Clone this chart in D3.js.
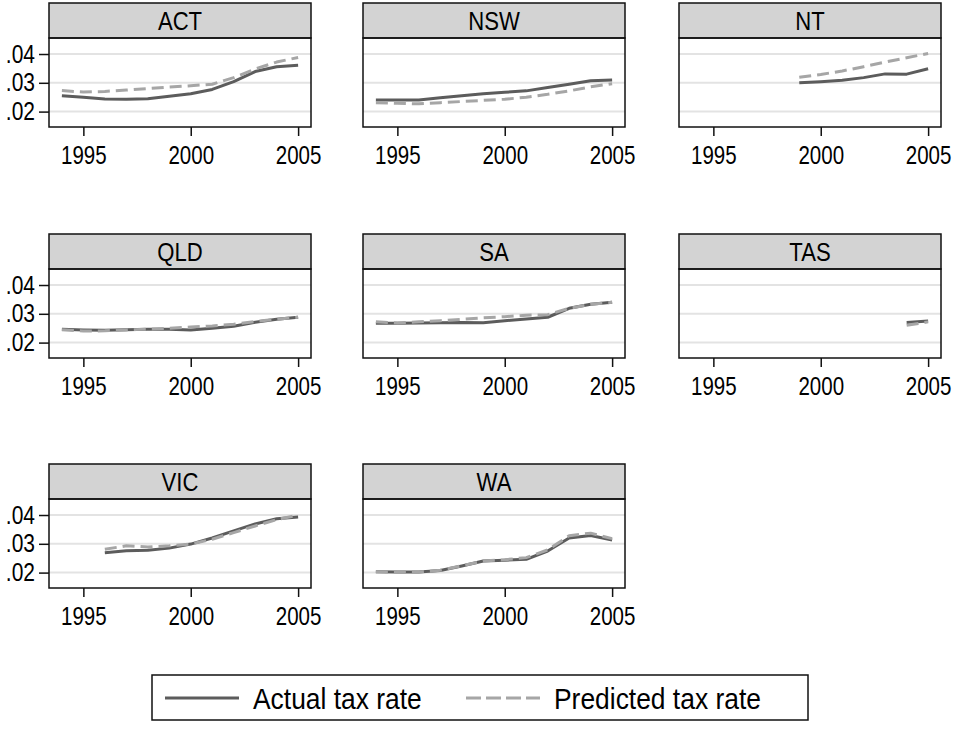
<!DOCTYPE html>
<html>
<head>
<meta charset="utf-8">
<script src="https://cdn.jsdelivr.net/npm/d3@7"></script>
<style>
  body { margin: 0; background: #fff; }
  text { font-family: "Liberation Sans Narrow", "Arial Narrow", "Liberation Sans", Arial, sans-serif; fill: #000; }
</style>
</head>
<body>
<div id="chart"></div>
<script>
// data
var years = [1994, 1995, 1996, 1997, 1998, 1999, 2000, 2001, 2002, 2003, 2004, 2005];
var states = ["ACT", "NSW", "NT", "QLD", "SA", "TAS", "VIC", "WA"];
var xTicks = [1995, 2000, 2005];
var yTicks = [0.02, 0.03, 0.04];

var actualACT = [.0255, .0250, .0244, .0243, .0245, .0253, .0262, .0277, .0304, .0339, .0356, .0361];
var predictedACT = [.0273, .0268, .0270, .0275, .0280, .0285, .0290, .0295, .0318, .0348, .0372, .0388];
var actualNSW = [.0240, .0240, .0240, .0248, .0255, .0262, .0267, .0272, .0284, .0295, .0307, .0310];
var predictedNSW = [.0231, .0229, .0227, .0231, .0235, .0239, .0243, .0250, .0260, .0272, .0286, .0297];
var actualNT = [null, null, null, null, null, .0300, .0304, .0309, .0318, .0331, .0330, .0349];
var predictedNT = [null, null, null, null, null, .0319, .0329, .0341, .0356, .0372, .0387, .0402];
var actualQLD = [.0246, .0244, .0243, .0245, .0246, .0246, .0244, .0250, .0257, .0271, .0281, .0288];
var predictedQLD = [.0245, .0240, .0241, .0244, .0247, .0250, .0254, .0258, .0264, .0273, .0281, .0288];
var actualSA = [.0267, .0267, .0268, .0269, .0270, .0269, .0276, .0282, .0288, .0319, .0333, .0340];
var predictedSA = [.0272, .0268, .0272, .0276, .0281, .0286, .0290, .0295, .0297, .0319, .0333, .0340];
var actualTAS = [null, null, null, null, null, null, null, null, null, null, .0270, .0275];
var predictedTAS = [null, null, null, null, null, null, null, null, null, null, .0260, .0272];
var actualVIC = [null, null, .0269, .0276, .0278, .0285, .0299, .0320, .0345, .0369, .0387, .0393];
var predictedVIC = [null, null, .0281, .0293, .0289, .0293, .0299, .0316, .0339, .0362, .0384, .0400];
var actualWA = [.0203, .0202, .0202, .0207, .0223, .0240, .0243, .0246, .0275, .0320, .0329, .0313];
var predictedWA = [.0203, .0202, .0202, .0208, .0224, .0240, .0245, .0252, .0279, .0328, .0337, .0318];

var actual = { ACT: actualACT, NSW: actualNSW, NT: actualNT, QLD: actualQLD, SA: actualSA, TAS: actualTAS, VIC: actualVIC, WA: actualWA };
var predicted = { ACT: predictedACT, NSW: predictedNSW, NT: predictedNT, QLD: predictedQLD, SA: predictedSA, TAS: predictedTAS, VIC: predictedVIC, WA: predictedWA };

var W = 957, H = 734;
var colLeft = [49, 363, 679], rowTop = [3, 234, 464];
var pw = 262, headH = 35, ph = 89;
var actualColor = "#5c5c5c", predColor = "#a6a6a6";

// no narrow font installed, so squeeze the regular one
var condense = function(sel, k) {
  sel.each(function() {
    var w = this.getComputedTextLength();
    d3.select(this).attr("textLength", w * k).attr("lengthAdjust", "spacingAndGlyphs");
  });
};

var svg = d3.select("#chart").append("svg")
  .attr("width", W).attr("height", H);

var x = d3.scaleLinear().domain([1993.4, 2005.6]).range([0, pw]);
var y = d3.scaleLinear().domain([0.01465, 0.04556]).range([ph, 0]);

var line = d3.line()
  .defined(function(d) { return d[1] != null; })
  .x(function(d) { return x(d[0]); })
  .y(function(d) { return y(d[1]); });

states.forEach(function(s, i) {
  var col = i % 3, row = Math.floor(i / 3);
  var g = svg.append("g")
    .attr("transform", "translate(" + colLeft[col] + "," + (rowTop[row] + headH) + ")");

  // header strip
  g.append("rect")
    .attr("x", 0).attr("y", -headH).attr("width", pw).attr("height", headH)
    .attr("fill", "#d3d3d3").attr("stroke", "#111").attr("stroke-width", 1.5);
  g.append("text")
    .attr("x", pw / 2).attr("y", -headH / 2 + 9)
    .attr("text-anchor", "middle").style("font-size", "26px")
    .text(s)
    .call(condense, 0.85);

  // grid
  g.selectAll(".grid").data(yTicks).enter().append("line")
    .attr("x1", 0).attr("x2", pw)
    .attr("y1", function(d) { return y(d); }).attr("y2", function(d) { return y(d); })
    .attr("stroke", "#e3e3e3").attr("stroke-width", 2);

  // series
  var a = years.map(function(yr, k) { return [yr, actual[s][k]]; });
  var p = years.map(function(yr, k) { return [yr, predicted[s][k]]; });
  g.append("path").datum(a).attr("d", line)
    .attr("fill", "none").attr("stroke", actualColor).attr("stroke-width", 3)
    .attr("stroke-linejoin", "round");
  g.append("path").datum(p).attr("d", line)
    .attr("fill", "none").attr("stroke", predColor).attr("stroke-width", 3)
    .attr("stroke-dasharray", "12,6").attr("stroke-linejoin", "round");

  // box
  g.append("rect")
    .attr("x", 0).attr("y", 0).attr("width", pw).attr("height", ph)
    .attr("fill", "none").attr("stroke", "#111").attr("stroke-width", 1.5);

  // x axis
  var xa = g.append("g").attr("transform", "translate(0," + ph + ")")
    .call(d3.axisBottom(x).tickValues(xTicks).tickFormat(d3.format("d")).tickSize(9).tickPadding(10));
  xa.select(".domain").remove();
  xa.selectAll("line").attr("stroke", "#111").attr("stroke-width", 1.5);
  xa.selectAll("text").style("font-size", "25px").attr("fill", "#000").call(condense, 0.82);

  // y axis on the first column only
  if (col === 0) {
    var ya = g.append("g")
      .call(d3.axisLeft(y).tickValues(yTicks)
        .tickFormat(function(d) { return d3.format(".2f")(d).replace(/^0/, ""); })
        .tickSize(10).tickPadding(4));
    ya.select(".domain").remove();
    ya.selectAll("line").attr("stroke", "#111").attr("stroke-width", 1.5);
    ya.selectAll("text").style("font-size", "25px").attr("fill", "#000").call(condense, 0.84);
  }
});

// legend
var lg = svg.append("g");
lg.append("rect")
  .attr("x", 152).attr("y", 675).attr("width", 656).attr("height", 45)
  .attr("fill", "#fff").attr("stroke", "#111").attr("stroke-width", 1.5);
var legendItems = [
  { label: "Actual tax rate", color: actualColor, dash: null, x0: 165 },
  { label: "Predicted tax rate", color: predColor, dash: "15,5", x0: 466 }
];
legendItems.forEach(function(it) {
  lg.append("line")
    .attr("x1", it.x0).attr("x2", it.x0 + 74).attr("y1", 698).attr("y2", 698)
    .attr("stroke", it.color).attr("stroke-width", 3)
    .attr("stroke-dasharray", it.dash);
  lg.append("text")
    .attr("x", it.x0 + 88).attr("y", 709)
    .style("font-size", "30px")
    .text(it.label)
    .call(condense, 0.88);
});
</script>
</body>
</html>
